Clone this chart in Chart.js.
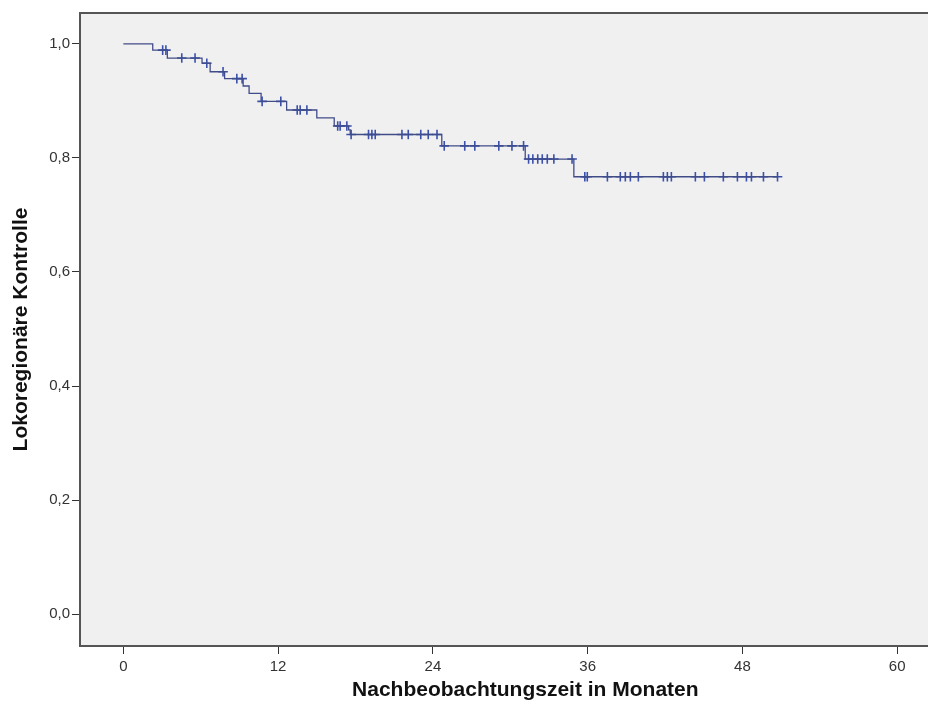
<!DOCTYPE html>
<html>
<head>
<meta charset="utf-8">
<script src="https://cdn.jsdelivr.net/npm/chart.js@4/dist/chart.umd.min.js"></script>
<style>
  html, body { margin: 0; padding: 0; background: #fff; overflow: hidden; }
  /* Zeichenfläche breiter als das Fenster: rechter Rand des Plots ist im Original abgeschnitten */
  #wrap { width: 977px; height: 711px; }
</style>
</head>
<body>
<div id="wrap"><canvas id="km"></canvas></div>
<script>
// Kaplan-Meier Stufen: Zeitpunkt des Abfalls (Monate) und Überlebensrate danach
const stepTimes = [0, 2.28, 3.41, 6.1, 6.73, 7.85, 9.29, 9.75, 10.68, 12.66, 15.0, 16.35, 17.47, 17.59, 24.69, 31.16, 34.93];
const stepSurv  = [1.0, 0.989, 0.975, 0.966, 0.951, 0.939, 0.926, 0.913, 0.899, 0.884, 0.870, 0.856, 0.849, 0.841, 0.821, 0.798, 0.767];
// zensierte Fälle (Monate)
const censorTimes = [3.05, 3.3, 4.53, 5.56, 6.47, 7.73, 8.8, 9.21, 10.76, 12.21, 13.48, 13.71, 14.23,
  16.62, 16.81, 17.33, 17.66, 19.01, 19.27, 19.53, 21.6, 22.09, 23.06, 23.64, 24.32,
  24.88, 26.47, 27.25, 29.11, 30.13, 31.03, 31.42, 31.75, 32.13, 32.48, 32.87, 33.38, 34.79,
  35.78, 35.97, 37.53, 38.53, 38.92, 39.31, 39.93, 41.87, 42.18, 42.49, 44.35, 45.05,
  46.52, 47.61, 48.31, 48.7, 49.63, 50.72];
const lastTime = 50.72;

const xTicks = [0, 12, 24, 36, 48, 60];
const yTicks = [0, 0.2, 0.4, 0.6, 0.8, 1.0];
const yTickLabels = ['0,0', '0,2', '0,4', '0,6', '0,8', '1,0'];

function survAt(t) {
  let s = stepSurv[0];
  for (let i = 0; i < stepTimes.length; i++) {
    if (stepTimes[i] <= t) s = stepSurv[i];
  }
  return s;
}

const curve = stepTimes.map((t, i) => ({ x: t, y: stepSurv[i] }));
curve.push({ x: lastTime, y: survAt(lastTime) });
const censored = censorTimes.map(t => ({ x: t, y: survAt(t) }));

const FONT = 'Liberation Sans, Arial, sans-serif';

// grauer Plotbereich + obere Rahmenlinie
const plotFrame = {
  id: 'plotFrame',
  beforeDraw(chart) {
    const { ctx, chartArea: a } = chart;
    ctx.save();
    ctx.fillStyle = '#f0f0f0';
    ctx.fillRect(a.left, a.top, a.right - a.left, a.bottom - a.top);
    ctx.strokeStyle = '#555';
    ctx.lineWidth = 2;
    ctx.beginPath();
    ctx.moveTo(a.left, a.top);
    ctx.lineTo(a.right, a.top);
    ctx.stroke();
    ctx.restore();
  }
};

new Chart(document.getElementById('km'), {
  type: 'scatter',
  data: {
    datasets: [{
      data: curve,
      showLine: true,
      stepped: true,
      borderColor: '#404c88',
      borderWidth: 1.3,
      pointRadius: 0,
      fill: false
    }, {
      data: censored,
      showLine: false,
      pointStyle: 'cross',
      pointRadius: 4.8,
      pointBorderWidth: 1.6,
      pointBorderColor: '#3a50aa',
      pointBackgroundColor: '#3a50aa'
    }]
  },
  options: {
    responsive: true,
    maintainAspectRatio: false,
    animation: false,
    layout: { padding: { top: 13, right: 0, left: 0, bottom: 0 } },
    plugins: {
      legend: { display: false },
      tooltip: { enabled: false }
    },
    scales: {
      x: {
        type: 'linear',
        min: -3.36,
        max: 65.69,
        afterBuildTicks: s => { s.ticks = xTicks.map(v => ({ value: v })); },
        afterFit: s => { s.height = 65; s.paddingLeft = 0; s.paddingRight = 0; },
        grid: { drawOnChartArea: false, drawTicks: true, tickLength: 8, color: '#333' },
        border: { display: true, color: '#555', width: 2 },
        ticks: { font: { family: FONT, size: 15 }, color: '#333', padding: 4, maxRotation: 0 },
        title: {
          display: true,
          text: 'Nachbeobachtungszeit in Monaten',
          font: { family: FONT, size: 21, weight: 'bold' },
          color: '#111',
          padding: { top: 0, bottom: 8 }
        }
      },
      y: {
        type: 'linear',
        min: -0.0556,
        max: 1.054,
        afterBuildTicks: s => { s.ticks = yTicks.map(v => ({ value: v })); },
        afterFit: s => { s.width = 80; },
        grid: { drawOnChartArea: false, drawTicks: true, tickLength: 8, color: '#333' },
        border: { display: true, color: '#555', width: 2 },
        ticks: {
          font: { family: FONT, size: 15 },
          color: '#333',
          padding: 2,
          callback: (v, i) => yTickLabels[i]
        },
        title: {
          display: true,
          text: 'Lokoregionäre Kontrolle',
          font: { family: FONT, size: 21, weight: 'bold' },
          color: '#111',
          padding: { top: 9, bottom: 0 }
        }
      }
    }
  },
  plugins: [plotFrame]
});
</script>
</body>
</html>
